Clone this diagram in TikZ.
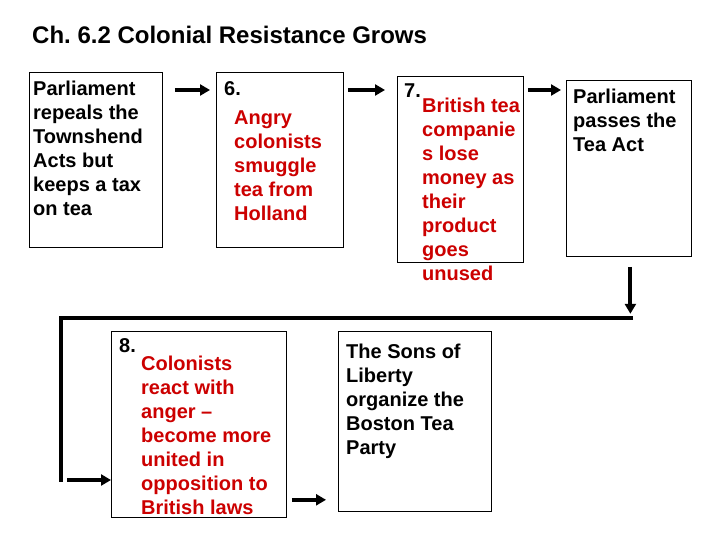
\documentclass[tikz,border=0pt]{standalone}
\usepackage{fontspec}
\setmainfont{Liberation Sans}
\usetikzlibrary{arrows.meta,calc}
\definecolor{txtred}{RGB}{204,0,0}
\frenchspacing
\begin{document}
\begin{tikzpicture}[x=1pt,y=-1pt,
  box/.style={draw=black,line width=0.8pt,inner sep=0pt,anchor=north west},
  txt/.style={anchor=north west,inner sep=0pt,align=left,
    font=\bfseries\fontsize{20}{24}\selectfont},
  redtxt/.style={txt,text=txtred},
  arr/.style={line width=4pt,-{Triangle[length=10pt,width=11pt]}},
  conn/.style={line width=3.5pt}]
\useasboundingbox (0,0) rectangle (720,540);
\fill[white] (0,0) rectangle (720,540);
% title
\node[anchor=base west,inner sep=0pt,font=\bfseries\fontsize{24}{30}\selectfont] (title) at (32,44) {Ch. 6.2 Colonial Resistance Grows};
% boxes
\node[box,minimum width=133pt,minimum height=175pt] (b1) at (29,72) {};
\node[box,minimum width=127pt,minimum height=175pt] (b6) at (216,72) {};
\node[box,minimum width=126pt,minimum height=186pt] (b7) at (397,76) {};
\node[box,minimum width=125pt,minimum height=176pt] (b4) at (566,80) {};
\node[box,minimum width=175pt,minimum height=186pt] (b8) at (111,331) {};
\node[box,minimum width=153pt,minimum height=180pt] (b9) at (338,331) {};
% texts (top = baseline - 16.8)
\node[txt] (t1) at (33,78.2) {\strut Parliament\\repeals the\\Townshend\\Acts but\\keeps a tax\\on tea};
\node[txt] (n6) at (224,78.2) {\strut 6.};
\node[redtxt] (t6) at (234,107.2) {\strut Angry\\colonists\\smuggle\\tea from\\Holland};
\node[txt] (n7) at (404,80.2) {\strut 7.};
\node[redtxt] (t7) at (422,95.2) {\strut British tea\\companie\\s lose\\money as\\their\\product\\goes\\unused};
\node[txt] (t4) at (573,86.2) {\strut Parliament\\passes the\\Tea Act};
\node[txt] (n8) at (119,335.2) {\strut 8.};
\node[redtxt] (t8) at (141,353.2) {\strut Colonists\\react with\\anger –\\become more\\united in\\opposition to\\British laws};
\node[txt] (t9) at (346,341.2) {\strut The Sons of\\Liberty\\organize the\\Boston Tea\\Party};
% connectors
\draw[arr] ([xshift=12pt,yshift=-18pt]b1.north east) -- ([xshift=-6pt,yshift=-18pt]b6.north west);
\draw[arr] ([xshift=4pt,yshift=-18pt]b6.north east) -- ([xshift=-12pt,yshift=-14pt]b7.north west);
\draw[arr] ([xshift=4pt,yshift=-14pt]b7.north east) -- ([xshift=-5pt,yshift=-10pt]b4.north west);
\coordinate (dtop) at ([xshift=1.5pt,yshift=-10pt]b4.south);
\coordinate (dbot) at ([xshift=1.5pt,yshift=-57pt]b4.south);
\draw[arr] (dtop) -- (dbot);
\coordinate (turnR) at (633,318);
\coordinate (turnL) at (61,318);
\coordinate (bend) at (61,482);
\draw[conn] (turnR) -- (turnL) -- (bend);
\coordinate (in8) at (67,480);
\draw[arr] (in8) -- (b8.west |- in8);
\draw[arr] ([xshift=5pt,yshift=18pt]b8.south east) -- ([xshift=-12pt,yshift=12pt]b9.south west);
\end{tikzpicture}
\end{document}
